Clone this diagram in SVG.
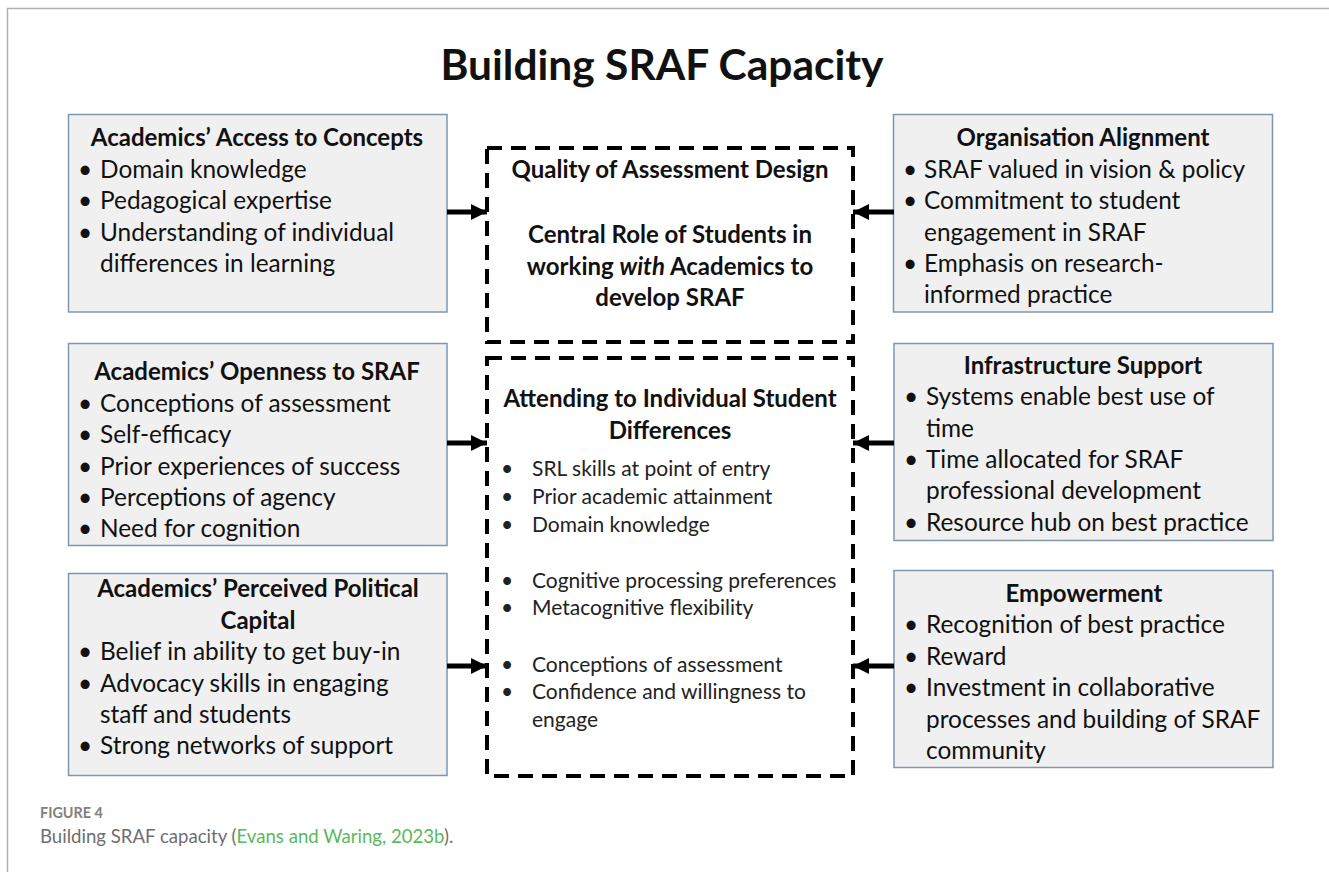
<svg xmlns="http://www.w3.org/2000/svg" width="1329" height="872" viewBox="0 0 1329 872">
  <defs>
    <marker id="head" markerUnits="userSpaceOnUse" markerWidth="18" markerHeight="18" refX="16" refY="9" orient="auto">
      <path d="M0,1 L16,9 L0,17 Z" fill="#000"/>
    </marker>
    <style>
      .frame { fill: none; stroke: #b0b0b0; stroke-width: 1.5; }
      .box { fill: #f0f0f0; stroke: #7f97ad; stroke-width: 1.5; }
      .dash { fill: #fff; stroke: #000; stroke-width: 4; stroke-dasharray: 15 9; }
      .t { font-family: Lato, "Liberation Sans", sans-serif; fill: #111; }
      .hd { font-size: 24px; font-weight: bold; text-anchor: middle; }
      .it { font-size: 24.4px; }
      .ct { font-size: 24px; font-weight: bold; text-anchor: middle; }
      .sm { font-size: 21px; fill: #222; }
      .arrow { stroke: #000; stroke-width: 5; fill: none; marker-end: url(#head); }
      .cap { font-family: Lato, "Open Sans", sans-serif; }
    </style>
  </defs>

  <rect width="1329" height="872" fill="#fff"/>
  <path class="frame" d="M7.5,872 V8.5 H1329"/>

  <text class="t" x="662" y="80" font-size="42.5" font-weight="bold" text-anchor="middle">Building SRAF Capacity</text>

  <!-- left column -->
  <g id="access">
    <rect class="box" x="68.5" y="114.5" width="378.5" height="197.5"/>
    <text class="t hd" x="257" y="146">Academics’ Access to Concepts</text>
    <g class="t it">
      <text x="78" y="178">•</text><text x="100" y="178">Domain knowledge</text>
      <text x="78" y="209">•</text><text x="100" y="209">Pedagogical expertise</text>
      <text x="78" y="241">•</text><text x="100" y="241">Understanding of individual</text>
      <text x="100" y="272">differences in learning</text>
    </g>
  </g>

  <g id="openness">
    <rect class="box" x="68.5" y="343.5" width="378.5" height="202"/>
    <text class="t hd" x="257" y="380">Academics’ Openness to SRAF</text>
    <g class="t it">
      <text x="78" y="412">•</text><text x="100" y="412">Conceptions of assessment</text>
      <text x="78" y="443">•</text><text x="100" y="443">Self-efficacy</text>
      <text x="78" y="475">•</text><text x="100" y="475">Prior experiences of success</text>
      <text x="78" y="506">•</text><text x="100" y="506">Perceptions of agency</text>
      <text x="78" y="537">•</text><text x="100" y="537">Need for cognition</text>
    </g>
  </g>

  <g id="political">
    <rect class="box" x="68.5" y="573.5" width="378.5" height="202"/>
    <text class="t hd" x="258" y="597">Academics’ Perceived Political</text>
    <text class="t hd" x="258" y="629">Capital</text>
    <g class="t it">
      <text x="78" y="660">•</text><text x="100" y="660">Belief in ability to get buy-in</text>
      <text x="78" y="692">•</text><text x="100" y="692">Advocacy skills in engaging</text>
      <text x="100" y="723">staff and students</text>
      <text x="78" y="754">•</text><text x="100" y="754">Strong networks of support</text>
    </g>
  </g>

  <!-- centre column -->
  <g id="design">
    <rect class="dash" x="487" y="148" width="366" height="194"/>
    <text class="t ct" x="670" y="178">Quality of Assessment Design</text>
    <text class="t ct" x="670" y="243">Central Role of Students in</text>
    <text class="t ct" x="670" y="275">working <tspan font-style="italic">with</tspan> Academics to</text>
    <text class="t ct" x="670" y="306">develop SRAF</text>
  </g>

  <g id="differences">
    <rect class="dash" x="487" y="358" width="366" height="418"/>
    <text class="t ct" x="670" y="407">Attending to Individual Student</text>
    <text class="t ct" x="670" y="439">Differences</text>
    <g class="t sm">
      <text x="501" y="476">•</text><text x="532" y="476">SRL skills at point of entry</text>
      <text x="501" y="504">•</text><text x="532" y="504">Prior academic attainment</text>
      <text x="501" y="532">•</text><text x="532" y="532">Domain knowledge</text>
      <text x="501" y="588">•</text><text x="532" y="588">Cognitive processing preferences</text>
      <text x="501" y="615">•</text><text x="532" y="615">Metacognitive flexibility</text>
      <text x="501" y="672">•</text><text x="532" y="672">Conceptions of assessment</text>
      <text x="501" y="699">•</text><text x="532" y="699">Confidence and willingness to</text>
      <text x="532" y="727">engage</text>
    </g>
  </g>

  <!-- right column -->
  <g id="alignment">
    <rect class="box" x="893.5" y="114.5" width="379" height="197.5"/>
    <text class="t hd" x="1083" y="146">Organisation Alignment</text>
    <g class="t it">
      <text x="903" y="178">•</text><text x="924" y="178">SRAF valued in vision &amp; policy</text>
      <text x="903" y="209">•</text><text x="924" y="209">Commitment to student</text>
      <text x="924" y="241">engagement in SRAF</text>
      <text x="903" y="272">•</text><text x="924" y="272">Emphasis on research-</text>
      <text x="924" y="303">informed practice</text>
    </g>
  </g>

  <g id="infrastructure">
    <rect class="box" x="894" y="343.5" width="379" height="197"/>
    <text class="t hd" x="1083" y="374">Infrastructure Support</text>
    <g class="t it">
      <text x="904" y="405">•</text><text x="926" y="405">Systems enable best use of</text>
      <text x="926" y="437">time</text>
      <text x="904" y="468">•</text><text x="926" y="468">Time allocated for SRAF</text>
      <text x="926" y="499">professional development</text>
      <text x="904" y="531">•</text><text x="926" y="531">Resource hub on best practice</text>
    </g>
  </g>

  <g id="empowerment">
    <rect class="box" x="894" y="570.5" width="379" height="197"/>
    <text class="t hd" x="1084" y="602">Empowerment</text>
    <g class="t it">
      <text x="904" y="633">•</text><text x="926" y="633">Recognition of best practice</text>
      <text x="904" y="665">•</text><text x="926" y="665">Reward</text>
      <text x="904" y="696">•</text><text x="926" y="696">Investment in collaborative</text>
      <text x="926" y="728">processes and building of SRAF</text>
      <text x="926" y="759">community</text>
    </g>
  </g>

  <!-- connectors -->
  <g id="connectors">
    <line class="arrow" x1="447" y1="212" x2="487" y2="212"/>
    <line class="arrow" x1="447" y1="443" x2="487" y2="443"/>
    <line class="arrow" x1="447" y1="666" x2="487" y2="666"/>
    <line class="arrow" x1="894" y1="212" x2="853" y2="212"/>
    <line class="arrow" x1="894" y1="443" x2="853" y2="443"/>
    <line class="arrow" x1="894" y1="666" x2="853" y2="666"/>
  </g>

  <!-- caption -->
  <text class="cap" x="40" y="818" font-size="14.4" font-weight="bold" fill="#808080">FIGURE 4</text>
  <text class="cap" x="40" y="843" font-size="18.6" fill="#6e6e6e">Building SRAF capacity (<tspan fill="#5cb85c">Evans and Waring, 2023b</tspan>).</text>
</svg>
